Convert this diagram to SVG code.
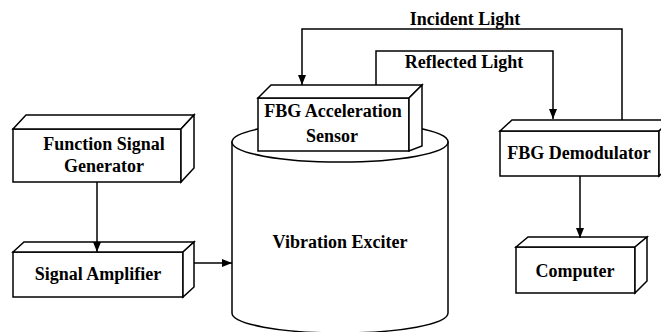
<svg xmlns="http://www.w3.org/2000/svg" width="661" height="332" viewBox="0 0 661 332">
<style>
.box{fill:#fff;stroke:#000;stroke-width:1.5;stroke-linejoin:miter}
.lbl{font-family:"Liberation Serif","Times New Roman",serif;font-weight:bold;font-size:18px;fill:#000;text-anchor:middle}
.conn{fill:none;stroke:#000;stroke-width:1.5}
</style>
<defs>
<marker id="arr" markerUnits="userSpaceOnUse" markerWidth="10" markerHeight="8" refX="10" refY="4" orient="auto">
<path d="M0,0 L10,4 L0,8 z" fill="#000"/>
</marker>
</defs>
<rect width="661" height="332" fill="#fff"/>

<g id="exciter">
<path class="box" d="M232,142 L232,313 A108,20 0 0 0 448,313 L448,142 Z"/>
<ellipse class="box" cx="340" cy="142" rx="108" ry="20"/>
<text class="lbl" x="340" y="248">Vibration Exciter</text>
</g>

<g id="fsg">
<rect class="box" x="13" y="129" width="168" height="53"/>
<polygon class="box" points="13,129 26,115 194,115 181,129"/>
<polygon class="box" points="181,129 194,115 194,168 181,182"/>
<text class="lbl" x="104" y="150">Function Signal</text>
<text class="lbl" x="104" y="172">Generator</text>
</g>

<g id="amplifier">
<rect class="box" x="13" y="252" width="170" height="45"/>
<polygon class="box" points="13,252 24,242 194,242 183,252"/>
<polygon class="box" points="183,252 194,242 194,287 183,297"/>
<text class="lbl" x="98" y="280">Signal Amplifier</text>
</g>

<g id="sensor">
<rect class="box" x="258" y="98" width="151" height="53"/>
<polygon class="box" points="258,98 271,85 422,85 409,98"/>
<polygon class="box" points="409,98 422,85 422,146 409,151"/>
<text class="lbl" x="333" y="117">FBG Acceleration</text>
<text class="lbl" x="332" y="142">Sensor</text>
</g>

<g id="demodulator">
<rect class="box" x="500" y="131" width="159" height="45"/>
<polygon class="box" points="500,131 512,120 671,120 659,131"/>
<polygon class="box" points="659,131 671,120 671,165 659,176"/>
<text class="lbl" x="579" y="159">FBG Demodulator</text>
</g>

<g id="computer">
<rect class="box" x="516" y="247" width="119" height="46"/>
<polygon class="box" points="516,247 528,237 647,237 635,247"/>
<polygon class="box" points="635,247 647,237 647,281 635,293"/>
<text class="lbl" x="575" y="277">Computer</text>
</g>

<g id="connectors">
<line class="conn" x1="97" y1="182" x2="97" y2="252" marker-end="url(#arr)"/>
<line class="conn" x1="194" y1="263" x2="232" y2="263" marker-end="url(#arr)"/>
<polyline class="conn" points="622,120 622,29 302,29 302,85" marker-end="url(#arr)"/>
<polyline class="conn" points="376,85 376,51 553,51 553,119" marker-end="url(#arr)"/>
<line class="conn" x1="580" y1="176" x2="580" y2="238" marker-end="url(#arr)"/>
<text class="lbl" x="465" y="25">Incident Light</text>
<text class="lbl" x="464" y="68">Reflected Light</text>
</g>
</svg>
